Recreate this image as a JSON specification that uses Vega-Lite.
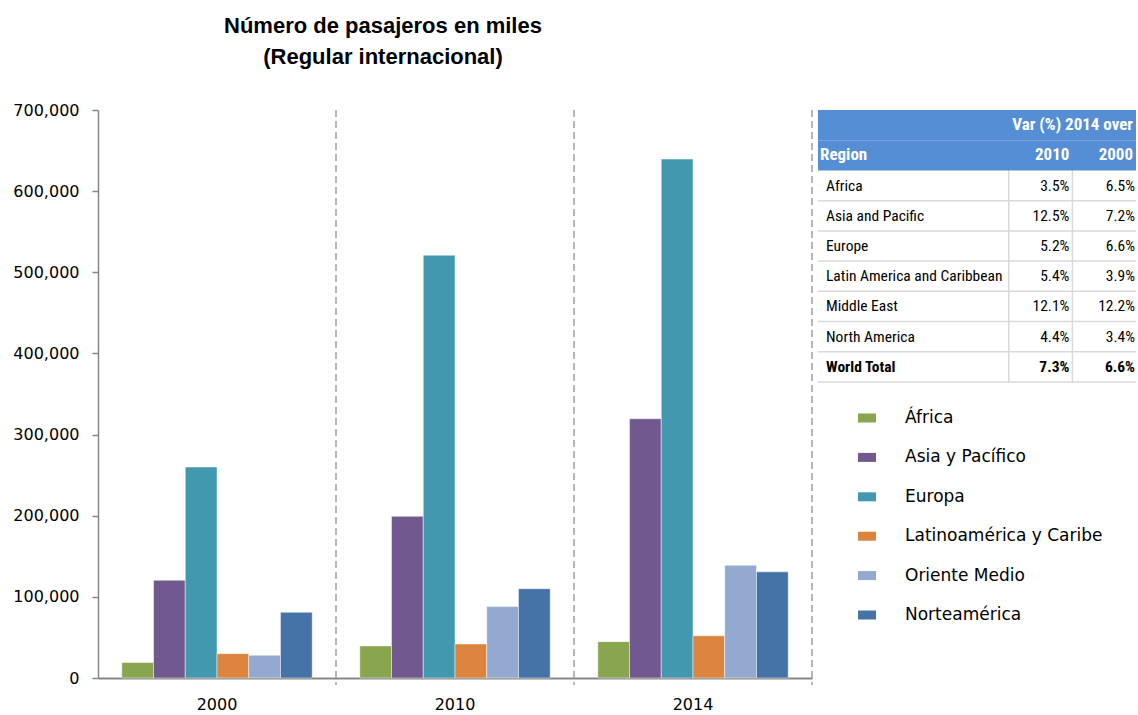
{
  "$schema": "https://vega.github.io/schema/vega-lite/v6.json",
  "background": "white",
  "padding": {"left": 12, "top": 15, "right": 0, "bottom": 0},
  "config": {"view": {"stroke": null}, "concat": {"spacing": 6}},
  "bounds": "flush",
  "datasets": {
    "pax": [
      {"year": "2000", "region": "África", "pax": 19000},
      {"year": "2000", "region": "Asia y Pacífico", "pax": 120500},
      {"year": "2000", "region": "Europa", "pax": 260000},
      {"year": "2000", "region": "Latinoamérica y Caribe", "pax": 30000},
      {"year": "2000", "region": "Oriente Medio", "pax": 28000},
      {"year": "2000", "region": "Norteamérica", "pax": 81000},
      {"year": "2010", "region": "África", "pax": 39500},
      {"year": "2010", "region": "Asia y Pacífico", "pax": 199300},
      {"year": "2010", "region": "Europa", "pax": 521000},
      {"year": "2010", "region": "Latinoamérica y Caribe", "pax": 42000},
      {"year": "2010", "region": "Oriente Medio", "pax": 88000},
      {"year": "2010", "region": "Norteamérica", "pax": 110000},
      {"year": "2014", "region": "África", "pax": 44800},
      {"year": "2014", "region": "Asia y Pacífico", "pax": 319500},
      {"year": "2014", "region": "Europa", "pax": 639500},
      {"year": "2014", "region": "Latinoamérica y Caribe", "pax": 52000},
      {"year": "2014", "region": "Oriente Medio", "pax": 139000},
      {"year": "2014", "region": "Norteamérica", "pax": 130800}
    ],
    "table": [
      {"row": "1", "region": "Africa", "v2010": 0.035, "v2000": 0.065},
      {"row": "2", "region": "Asia and Pacific", "v2010": 0.125, "v2000": 0.072},
      {"row": "3", "region": "Europe", "v2010": 0.052, "v2000": 0.066},
      {"row": "4", "region": "Latin America and Caribbean", "v2010": 0.054, "v2000": 0.039},
      {"row": "5", "region": "Middle East", "v2010": 0.121, "v2000": 0.122},
      {"row": "6", "region": "North America", "v2010": 0.044, "v2000": 0.034},
      {"row": "7", "region": "World Total", "v2010": 0.073, "v2000": 0.066}
    ]
  },
  "hconcat": [
    {
      "width": 714,
      "height": 568,
      "title": {
        "text": ["Número de pasajeros en miles", "(Regular internacional)"],
        "font": "Liberation Sans",
        "fontSize": 22,
        "fontWeight": "bold",
        "color": "#000000",
        "anchor": "middle",
        "frame": "group",
        "dx": -72,
        "lineHeight": 31,
        "offset": 33
      },
      "layer": [
        {
          "data": {"name": "pax"},
          "mark": {"type": "bar", "stroke": "#FFFFFF", "strokeWidth": 0.8, "strokeOpacity": 0.6},
          "encoding": {
            "x": {
              "field": "year", "type": "nominal",
              "scale": {"paddingInner": 0, "paddingOuter": 0},
              "axis": {
                "title": null, "labelAngle": 0, "ticks": false,
                "domainColor": "#868686", "domainWidth": 2,
                "labelFont": "DejaVu Sans", "labelFontSize": 16, "labelColor": "#000000",
                "labelPadding": 18
              }
            },
            "xOffset": {
              "field": "region", "type": "nominal",
              "sort": ["África", "Asia y Pacífico", "Europa", "Latinoamérica y Caribe", "Oriente Medio", "Norteamérica"],
              "scale": {"paddingInner": 0, "paddingOuter": 0.75}
            },
            "y": {
              "field": "pax", "type": "quantitative",
              "scale": {"domain": [0, 700000], "nice": false},
              "axis": {
                "title": null,
                "values": [0, 100000, 200000, 300000, 400000, 500000, 600000, 700000],
                "format": ",.0f", "grid": false,
                "domainColor": "#868686", "domainWidth": 1.5,
                "tickColor": "#868686", "tickSize": 6, "tickWidth": 1.5,
                "labelFont": "DejaVu Sans", "labelFontSize": 16, "labelColor": "#000000",
                "labelPadding": 13
              }
            },
            "color": {
              "field": "region", "type": "nominal",
              "scale": {
                "domain": ["África", "Asia y Pacífico", "Europa", "Latinoamérica y Caribe", "Oriente Medio", "Norteamérica"],
                "range": ["#89A54E", "#71588F", "#4198AF", "#DB843D", "#93A9CF", "#4572A7"]
              },
              "legend": {
                "orient": "none", "legendX": 760, "legendY": 299,
                "title": null,
                "symbolType": "M-1,-0.5H1V0.5H-1Z",
                "symbolSize": 324,
                "symbolStrokeWidth": 0,
                "labelFont": "DejaVu Sans", "labelFontSize": 17, "labelColor": "#000000",
                "labelLimit": 400,
                "labelOffset": 29, "rowPadding": 22.4
              }
            }
          }
        },
        {
          "data": {"values": [{"year": "2000"}, {"year": "2010"}, {"year": "2014"}]},
          "mark": {"type": "rule", "color": "#A0A0A0", "strokeWidth": 1.5, "strokeDash": [7, 4], "y2Offset": 7},
          "encoding": {
            "x": {"field": "year", "type": "nominal", "bandPosition": 1},
            "y": {"datum": 700000},
            "y2": {"datum": 0}
          }
        }
      ]
    },
    {
      "width": 318,
      "height": 272,
      "layer": [
        {
          "data": {"values": [{"col": "c4"}, {"col": "c5"}]},
          "mark": {"type": "rule", "color": "#D9D9D9", "strokeWidth": 1.5},
          "encoding": {
            "x": {"field": "col", "type": "nominal", "bandPosition": 0,
                  "scale": {"domain": ["c1", "c2", "c3", "c4", "c5"], "paddingInner": 0, "paddingOuter": 0}, "axis": null}
          }
        },
        {
          "data": {"name": "table"},
          "mark": {"type": "rule", "color": "#D9D9D9", "strokeWidth": 1.5},
          "encoding": {
            "y": {"field": "row", "type": "nominal", "bandPosition": 1,
                  "scale": {"domain": ["h1", "h2", "1", "2", "3", "4", "5", "6", "7"], "paddingInner": 0, "paddingOuter": 0}, "axis": null}
          }
        },
        {
          "data": {"values": [{"row": "h1"}, {"row": "h2"}]},
          "mark": {"type": "rect", "color": "#558ED5"},
          "encoding": {
            "y": {"field": "row", "type": "nominal", "axis": null},
            "x": {"value": 0},
            "x2": {"value": "width"}
          }
        },
        {
          "data": {"values": [
            {"row": "h1", "col": "c5", "label": "Var (%) 2014 over"},
            {"row": "h2", "col": "c4", "label": "2010"},
            {"row": "h2", "col": "c5", "label": "2000"}
          ]},
          "mark": {"type": "text", "align": "right", "dx": -3, "color": "#FFFFFF",
                   "font": "Liberation Sans Narrow, Roboto Condensed, DejaVu Sans Condensed, Liberation Sans",
                   "fontSize": 17, "fontWeight": "bold"},
          "encoding": {
            "x": {"field": "col", "type": "nominal", "bandPosition": 1, "axis": null},
            "y": {"field": "row", "type": "nominal", "axis": null},
            "text": {"field": "label"}
          }
        },
        {
          "data": {"values": [{"row": "h2", "label": "Region"}]},
          "mark": {"type": "text", "align": "left", "dx": 2, "color": "#FFFFFF",
                   "font": "Liberation Sans Narrow, Roboto Condensed, DejaVu Sans Condensed, Liberation Sans",
                   "fontSize": 17, "fontWeight": "bold"},
          "encoding": {
            "x": {"datum": "c1", "type": "nominal", "bandPosition": 0, "axis": null},
            "y": {"field": "row", "type": "nominal", "axis": null},
            "text": {"field": "label"}
          }
        },
        {
          "data": {"name": "table"},
          "transform": [{"filter": "datum.row != '7'"}],
          "mark": {"type": "text", "align": "left", "dx": 8, "color": "#000000",
                   "font": "Liberation Sans Narrow, Roboto Condensed, DejaVu Sans Condensed, Liberation Sans", "fontSize": 15.5},
          "encoding": {
            "x": {"datum": "c1", "type": "nominal", "bandPosition": 0, "axis": null},
            "y": {"field": "row", "type": "nominal", "axis": null},
            "text": {"field": "region"}
          }
        },
        {
          "data": {"name": "table"},
          "transform": [{"filter": "datum.row != '7'"}],
          "mark": {"type": "text", "align": "right", "dx": -3, "color": "#000000",
                   "font": "Liberation Sans Narrow, Roboto Condensed, DejaVu Sans Condensed, Liberation Sans", "fontSize": 15.5},
          "encoding": {
            "x": {"datum": "c4", "type": "nominal", "bandPosition": 1, "axis": null},
            "y": {"field": "row", "type": "nominal", "axis": null},
            "text": {"field": "v2010", "type": "quantitative", "format": ".1%"}
          }
        },
        {
          "data": {"name": "table"},
          "transform": [{"filter": "datum.row != '7'"}],
          "mark": {"type": "text", "align": "right", "dx": -1, "color": "#000000",
                   "font": "Liberation Sans Narrow, Roboto Condensed, DejaVu Sans Condensed, Liberation Sans", "fontSize": 15.5},
          "encoding": {
            "x": {"datum": "c5", "type": "nominal", "bandPosition": 1, "axis": null},
            "y": {"field": "row", "type": "nominal", "axis": null},
            "text": {"field": "v2000", "type": "quantitative", "format": ".1%"}
          }
        },
        {
          "data": {"name": "table"},
          "transform": [{"filter": "datum.row == '7'"}],
          "mark": {"type": "text", "align": "left", "dx": 8, "color": "#000000", "fontWeight": "bold",
                   "font": "Liberation Sans Narrow, Roboto Condensed, DejaVu Sans Condensed, Liberation Sans", "fontSize": 15.5},
          "encoding": {
            "x": {"datum": "c1", "type": "nominal", "bandPosition": 0, "axis": null},
            "y": {"field": "row", "type": "nominal", "axis": null},
            "text": {"field": "region"}
          }
        },
        {
          "data": {"name": "table"},
          "transform": [{"filter": "datum.row == '7'"}],
          "mark": {"type": "text", "align": "right", "dx": -3, "color": "#000000", "fontWeight": "bold",
                   "font": "Liberation Sans Narrow, Roboto Condensed, DejaVu Sans Condensed, Liberation Sans", "fontSize": 15.5},
          "encoding": {
            "x": {"datum": "c4", "type": "nominal", "bandPosition": 1, "axis": null},
            "y": {"field": "row", "type": "nominal", "axis": null},
            "text": {"field": "v2010", "type": "quantitative", "format": ".1%"}
          }
        },
        {
          "data": {"name": "table"},
          "transform": [{"filter": "datum.row == '7'"}],
          "mark": {"type": "text", "align": "right", "dx": -1, "color": "#000000", "fontWeight": "bold",
                   "font": "Liberation Sans Narrow, Roboto Condensed, DejaVu Sans Condensed, Liberation Sans", "fontSize": 15.5},
          "encoding": {
            "x": {"datum": "c5", "type": "nominal", "bandPosition": 1, "axis": null},
            "y": {"field": "row", "type": "nominal", "axis": null},
            "text": {"field": "v2000", "type": "quantitative", "format": ".1%"}
          }
        }
      ]
    }
  ]
}
